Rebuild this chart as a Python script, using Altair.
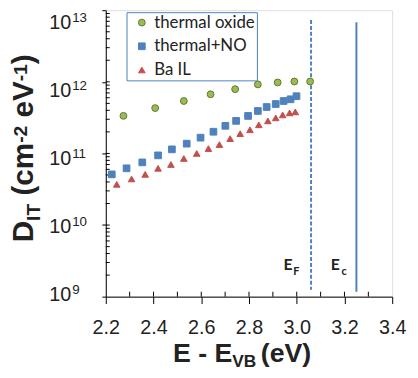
import altair as alt
import pandas as pd

# ---------------- data ----------------
series_names = ["thermal oxide", "thermal+NO", "Ba IL"]
fill_colors = ["#9BBB59", "#4F81BD", "#C0504D"]
stroke_colors = ["#5F7A2C", "#4F81BD", "#C0504D"]
shapes = ["circle", "square", "triangle-up"]
sizes = [48, 44, 68]

ox_e = [2.274, 2.407, 2.527, 2.639, 2.742, 2.837, 2.920, 2.990, 3.056]
ox_d = [3.35e11, 4.3e11, 5.4e11, 6.7e11, 7.9e11, 9.2e11, 9.8e11, 1.01e12, 1.01e12]

no_e = [2.225, 2.287, 2.353, 2.419, 2.477, 2.539, 2.597, 2.651, 2.701,
        2.746, 2.796, 2.837, 2.874, 2.912, 2.945, 2.974, 2.999]
no_d = [5.1e10, 6.2e10, 7.5e10, 9.4e10, 1.14e11, 1.37e11, 1.66e11, 2.01e11, 2.43e11,
        2.85e11, 3.34e11, 3.92e11, 4.45e11, 4.9e11, 5.4e11, 5.7e11, 6.3e11]

ba_e = [2.246, 2.308, 2.365, 2.419, 2.473, 2.527, 2.581, 2.630, 2.676,
        2.721, 2.763, 2.804, 2.841, 2.879, 2.912, 2.941, 2.970, 2.994]
ba_d = [3.7e10, 4.4e10, 5.1e10, 6.2e10, 7.0e10, 8.5e10, 1.0e11, 1.17e11, 1.33e11,
        1.61e11, 1.89e11, 2.14e11, 2.51e11, 2.85e11, 3.14e11, 3.45e11, 3.68e11, 3.8e11]

x_ticks = [2.2, 2.4, 2.6, 2.8, 3.0, 3.2, 3.4]
x_minor = [2.3, 2.4, 2.5, 2.6, 2.7, 2.8, 2.9, 3.0, 3.1, 3.2, 3.3]
y_ticks = [1e9, 1e10, 1e11, 1e12, 1e13]
y_minor = [m * 10.0 ** k for k in range(9, 13) for m in range(1, 10) if not (k == 9 and m == 1)]
exps = [9, 10, 11, 12, 13]

ef_x, ec_x = 3.06, 3.25
line_top = [7.3e12, 6.8e12]
line_bot = [1.25e9, 1.17e9]
label_y = 2.36e9

df = pd.concat([
    pd.DataFrame({"series": s, "e": e, "dit": d})
    for s, e, d in zip(series_names, [ox_e, no_e, ba_e], [ox_d, no_d, ba_d])
])

XS = alt.Scale(domain=[2.2, 3.4])
YS = alt.Scale(type="log", domain=[1e9, 1e13])
TXT = "#222222"
ARIAL = "Liberation Sans"

legend = alt.Legend(
    orient="none", legendX=21, legendY=2, padding=2, symbolOffset=5,
    labelOffset=4, rowPadding=6, labelFont="Lato", labelFontSize=17,
    labelColor=TXT, strokeColor="#4F81BD", fillColor="white",
    symbolStrokeWidth=1, labelExpr="datum.label + '\u00a0\u00a0\u00a0'", labelLimit=300,
)

pts = alt.Chart(df).mark_point(filled=True, opacity=1, strokeWidth=1).encode(
    x=alt.X("e:Q", scale=XS, axis=alt.Axis(
        values=x_ticks, format=".1f", title=None, labelFont=ARIAL, labelFontSize=20,
        labelColor=TXT, tickSize=7, labelPadding=14, domainColor="black",
        tickColor="black", grid=False, labelFlush=False, labelOverlap=False)),
    y=alt.Y("dit:Q", scale=YS, axis=alt.Axis(
        values=y_ticks, labels=False, title=None, tickSize=4, domainColor="black",
        tickColor="black", grid=False)),
    fill=alt.Fill("series:N", scale=alt.Scale(domain=series_names, range=fill_colors), legend=legend, title=None),
    stroke=alt.Stroke("series:N", scale=alt.Scale(domain=series_names, range=stroke_colors), legend=legend, title=None),
    shape=alt.Shape("series:N", scale=alt.Scale(domain=series_names, range=shapes), legend=legend, title=None),
    size=alt.Size("series:N", scale=alt.Scale(domain=series_names, range=sizes), legend=legend, title=None),
)

lines_df = pd.DataFrame({"x": [ef_x, ec_x], "top": line_top, "bot": line_bot, "kind": ["EF", "Ec"]})
ef_line = alt.Chart(lines_df[lines_df.kind == "EF"]).mark_rule(
    color="#4F81BD", strokeWidth=2, strokeDash=[4, 2]).encode(
    x=alt.X("x:Q", scale=XS), y=alt.Y("top:Q", scale=YS), y2="bot:Q")
ec_line = alt.Chart(lines_df[lines_df.kind == "Ec"]).mark_rule(
    color="#4F81BD", strokeWidth=2).encode(
    x=alt.X("x:Q", scale=XS), y=alt.Y("top:Q", scale=YS), y2="bot:Q")

xminor = alt.Chart(pd.DataFrame({"x": x_minor})).mark_rule(color="black", strokeWidth=1).encode(
    x=alt.X("x:Q", scale=XS), y=alt.value(290), y2=alt.value(285))
yminor = alt.Chart(pd.DataFrame({"y": y_minor})).mark_rule(color="black", strokeWidth=1).encode(
    y=alt.Y("y:Q", scale=YS), x=alt.value(0), x2=alt.value(4))


def elabel(x, main_dx, sub_dx, sub):
    d = pd.DataFrame({"x": [x], "y": [label_y]})
    a = alt.Chart(d).mark_text(text="E", font="Lato", fontWeight="bold", fontSize=16, color=TXT,
                               align="left", baseline="alphabetic", dx=main_dx).encode(
        x=alt.X("x:Q", scale=XS), y=alt.Y("y:Q", scale=YS))
    b = alt.Chart(d).mark_text(text=sub, font="Lato", fontWeight="bold", fontSize=11, color=TXT,
                               align="left", baseline="alphabetic", dx=sub_dx, dy=5).encode(
        x=alt.X("x:Q", scale=XS), y=alt.Y("y:Q", scale=YS))
    return [a, b]


blank = alt.Data(values=[{}])


def piece(text, x, y, size, angle=0):
    kw = dict(text=text, font=ARIAL, fontWeight="bold", fontSize=size, color=TXT,
              align="left", baseline="alphabetic")
    if angle:
        kw["angle"] = angle
    return alt.Chart(blank).mark_text(**kw).encode(x=alt.value(x), y=alt.value(y))


# y-axis title  D_IT (cm^-2 eV^-1), rotated
ytitle = [
    piece("D", -74, 235, 30, 270),
    piece("IT", -67, 213.3, 19.5, 270),
    piece("(cm", -74, 187.7, 30, 270),
    piece("-2", -80, 134.3, 19.5, 270),
    piece("eV", -74, 108.7, 30, 270),
    piece("-1", -80, 72, 19.5, 270),
    piece(")", -74, 54.7, 30, 270),
]
# x-axis title  E - E_VB (eV)
xtitle = [
    piece("E - E", 68, 356, 27),
    piece("VB", 128, 361, 17.5),
    piece("(eV)", 157, 356, 27),
]

main = alt.layer(
    xminor, yminor, ef_line, ec_line, pts,
    *elabel(ef_x, -28, -18, "F"), *elabel(ec_x, -26, -15, "c"),
    *ytitle, *xtitle,
)

# y tick labels 10^n
ylab_df = pd.DataFrame({"exp": exps, "sup": [str(e) for e in exps]})
YL = alt.Y("exp:Q", scale=alt.Scale(domain=[9.058, 13.272], zero=False, nice=False), axis=None)
ten = alt.Chart(ylab_df).mark_text(text="10", font=ARIAL, fontSize=20, color=TXT,
                                   align="right", baseline="alphabetic").encode(x=alt.value(-35), y=YL)
sup = alt.Chart(ylab_df).mark_text(font=ARIAL, fontSize=13.5, color=TXT, align="left",
                                   baseline="alphabetic", dy=-7, dx=1).encode(
    x=alt.value(-35), y=YL, text="sup:N")
ylabels = alt.layer(ten, sup)

chart = alt.layer(main, ylabels).resolve_scale(y="independent").properties(
    width=290, height=290,
    autosize=alt.AutoSizeParams(type="none"),
    padding={"left": 99, "top": 0, "right": 18, "bottom": 72},
).configure_view(stroke="#8C8C8C", strokeWidth=1).configure(background="white")

chart.save("out.html", embed_options={"renderer": "svg", "actions": False})
